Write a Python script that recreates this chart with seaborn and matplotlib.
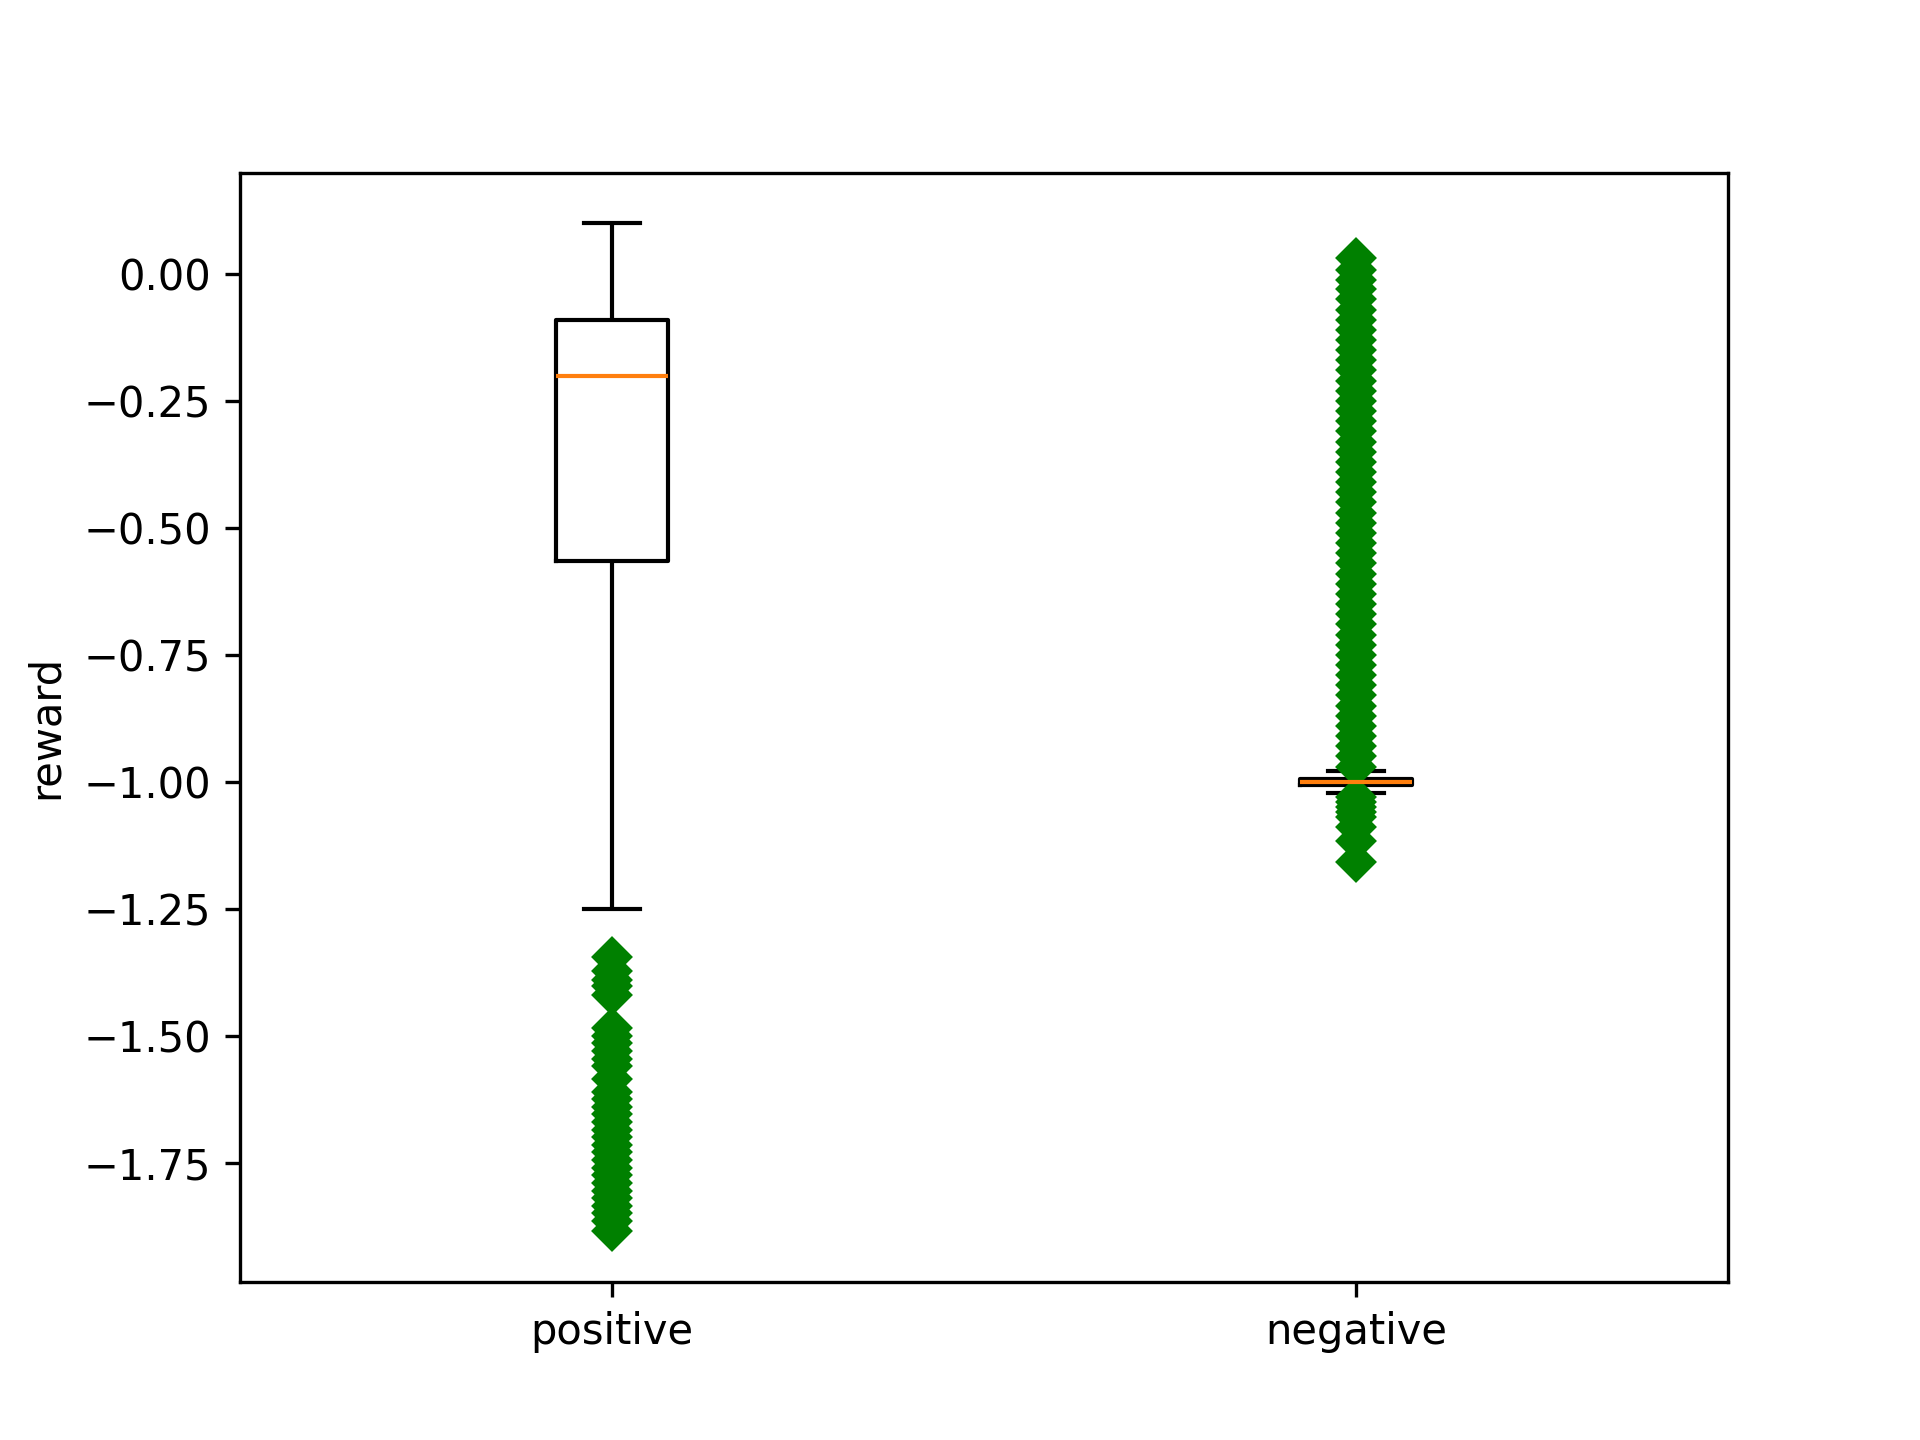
import matplotlib
matplotlib.use('Agg')
import matplotlib.pyplot as plt
import numpy as np
import pandas as pd
import seaborn as sns


### Data (box stats + outliers)

groups = ['positive', 'negative']

# positive: whisker ends, quartiles and median, with repeat counts
pos_core_values = [-1.25, -0.565, -0.20, -0.09, 0.10]
pos_core_counts = [1, 40, 40, 40, 1]
pos_outliers = [-1.345, -1.372, -1.39, -1.402, -1.42,
                -1.485, -1.50, -1.515, -1.53, -1.545, -1.56, -1.585,
                -1.61, -1.625, -1.64, -1.655, -1.67, -1.685, -1.70,
                -1.715, -1.73, -1.745, -1.76, -1.775, -1.79, -1.805,
                -1.82, -1.835, -1.85, -1.865, -1.885]

# negative: very tight box around -1 with outliers on both sides
neg_core_values = [-1.023, -1.006, -1.00, -0.994, -0.978]
neg_core_counts = [1, 80, 80, 80, 1]
neg_outliers_low = [-1.03, -1.04, -1.05, -1.06, -1.07, -1.09, -1.116, -1.157]
neg_outliers_high = [-0.97, -0.95, -0.93, -0.91, -0.89, -0.87, -0.85, -0.83,
                     -0.81, -0.79, -0.77, -0.75, -0.73, -0.71, -0.69, -0.67,
                     -0.65, -0.63, -0.61, -0.59, -0.57, -0.55, -0.53, -0.51,
                     -0.49, -0.47, -0.45, -0.43, -0.41, -0.39, -0.37, -0.35,
                     -0.33, -0.31, -0.29, -0.27, -0.25, -0.23, -0.21, -0.19,
                     -0.17, -0.15, -0.13, -0.11, -0.09, -0.07, -0.05, -0.03,
                     -0.012, 0.008, 0.032]

# Build long-format table
pos_vals = list(np.repeat(pos_core_values, pos_core_counts)) + pos_outliers
neg_vals = list(np.repeat(neg_core_values, neg_core_counts)) + neg_outliers_low + neg_outliers_high

df = pd.DataFrame({
    'group': [groups[0]] * len(pos_vals) + [groups[1]] * len(neg_vals),
    'reward': pos_vals + neg_vals,
})

### Plot

fig, ax = plt.subplots(figsize=(6.4, 4.8), dpi=300)

sns.boxplot(data=df, x='group', y='reward', order=groups, ax=ax,
            width=0.15, fill=False, color='black', linewidth=1,
            medianprops=dict(color='#ff7f0e', linewidth=1),
            flierprops=dict(marker='D', markersize=6, markerfacecolor='green',
                            markeredgecolor='green', linestyle='none'))

ax.set_xlabel('')
ax.set_ylabel('reward')

plt.savefig('out.png', dpi=300)
